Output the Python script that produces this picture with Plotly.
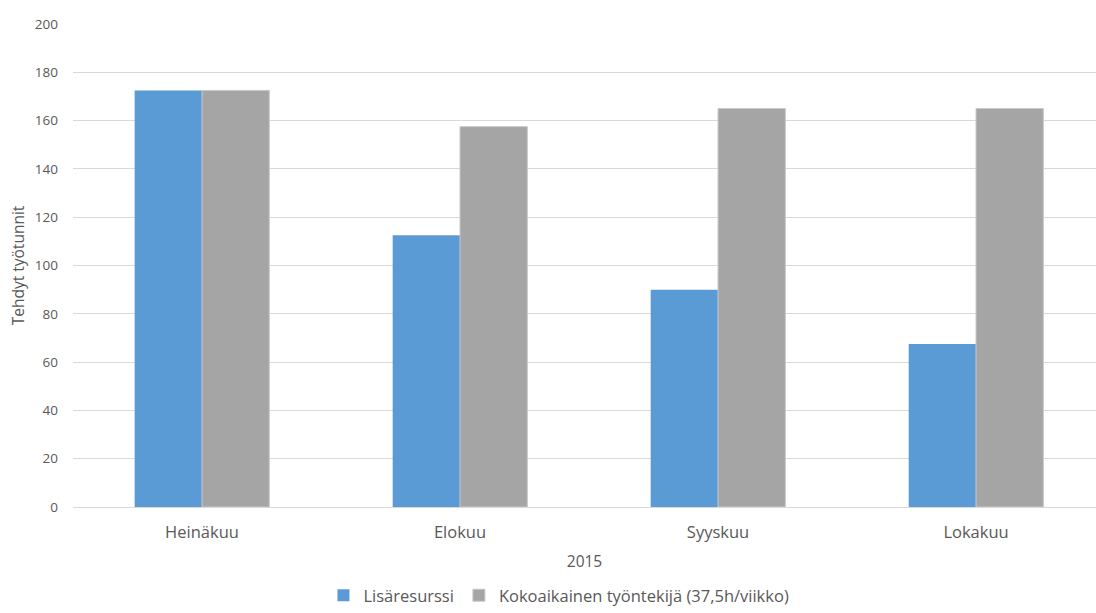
import plotly.graph_objects as go

months = ["Heinäkuu", "Elokuu", "Syyskuu", "Lokakuu"]
lisaresurssi = [172.5, 112.5, 90, 67.5]
kokoaikainen = [172.5, 157.5, 165, 165]
series_names = ["Lisäresurssi", "Kokoaikainen työntekijä (37,5h/viikko)"]
y_ticks = [0, 20, 40, 60, 80, 100, 120, 140, 160, 180, 200]

FONT = "Open Sans"
TXT = "#595959"

fig = go.Figure()
fig.add_trace(go.Bar(x=months, y=lisaresurssi, name=series_names[0],
                     marker=dict(color="#5B9BD5", line=dict(width=0))))
fig.add_trace(go.Bar(x=months, y=kokoaikainen, name=series_names[1],
                     marker=dict(color="#A5A5A5", line=dict(width=1, color="#C9C9C9"))))

fig.update_layout(
    width=1096, height=613,
    margin=dict(l=73, r=0, t=24, b=106),
    paper_bgcolor="white", plot_bgcolor="white",
    barmode="group", bargap=0.478, bargroupgap=0,
    font=dict(family=FONT, color=TXT, size=13),
    legend=dict(orientation="h", xref="container", yref="container",
                x=0.51, xanchor="center", y=0.0, yanchor="bottom",
                font=dict(size=16.5, color=TXT), traceorder="normal",
                itemwidth=30, tracegroupgap=0),
    showlegend=True,
)
fig.update_xaxes(
    type="category", range=[-0.5, 3.465],
    showgrid=False, showline=True, linecolor="#D9D9D9", linewidth=1,
    ticks="", tickfont=dict(size=16.5, color=TXT), ticklabelstandoff=10,
    title=dict(text="2015", font=dict(size=15.5, color=TXT), standoff=14),
    zeroline=False,
)
fig.update_yaxes(
    range=[0, 200], tickvals=y_ticks,
    showgrid=True, gridcolor="#D9D9D9", gridwidth=1,
    showline=False, zeroline=False, ticks="",
    tickfont=dict(size=13.5, color=TXT), ticklabelstandoff=14,
    title=dict(text="Tehdyt työtunnit", font=dict(size=15.5, color=TXT), standoff=6),
)

fig.write_html("out.html")
